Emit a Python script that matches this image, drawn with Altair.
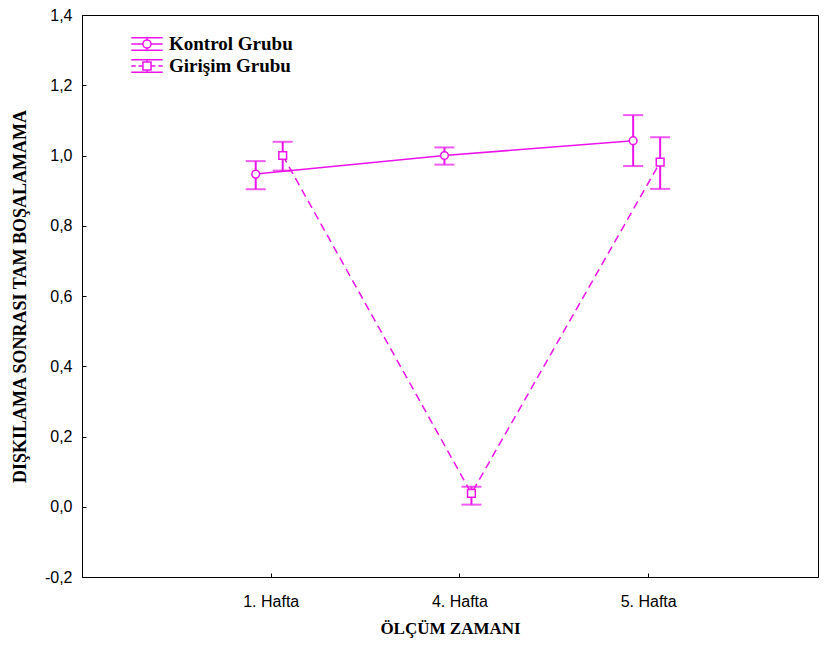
import altair as alt
import pandas as pd

weeks = ["1. Hafta", "4. Hafta", "5. Hafta"]
week_pos = [1, 2, 3]
groups = ["Kontrol Grubu", "Girişim Grubu"]
kontrol_mean = [0.947, 1.000, 1.042]
kontrol_low = [0.904, 0.974, 0.970]
kontrol_high = [0.984, 1.023, 1.115]
girisim_mean = [1.000, 0.038, 0.981]
girisim_low = [0.957, 0.006, 0.905]
girisim_high = [1.039, 0.057, 1.052]
y_ticks = [-0.2, 0.0, 0.2, 0.4, 0.6, 0.8, 1.0, 1.2, 1.4]

MAG = "#EA14EA"
PLOT_H = 562


def frame(g, m, lo, hi):
    return pd.DataFrame({"pos": week_pos, "week": weeks, "group": g,
                         "mean": m, "lo": lo, "hi": hi})


dk = frame(groups[0], kontrol_mean, kontrol_low, kontrol_high)
dg = frame(groups[1], girisim_mean, girisim_low, girisim_high)

x_label_expr = " : ".join(
    [f"datum.value == {p} ? '{w}'" for p, w in zip(week_pos[:-1], weeks[:-1])]
) + f" : '{weeks[-1]}'"

x_axis = alt.Axis(
    values=week_pos, labelExpr=x_label_expr, title="ÖLÇÜM ZAMANI",
    ticks=False, grid=True, gridDash=[0, PLOT_H - 4, 4, 1000], gridColor="black",
    gridWidth=1, gridOpacity=1, labelPadding=16, titlePadding=11, titleFontSize=17,
)
y_axis = alt.Axis(
    values=y_ticks,
    labelExpr="replace(replace(format(datum.value, '.1f'), '.', ','), '\u2212', '-')",
    title="DIŞKILAMA SONRASI TAM BOŞALAMAMA",
    ticks=False, grid=True, gridDash=[4, 3000], gridColor="black", gridWidth=1,
    gridOpacity=1, labelPadding=10, titlePadding=15, titleFontSize=18,
)
x_scale = alt.Scale(domain=[0, 3.9], nice=False, zero=False)
y_scale = alt.Scale(domain=[-0.2, 1.4], nice=False, zero=False)


def X():
    return alt.X("pos:Q", scale=x_scale, axis=x_axis)


def Y(field):
    return alt.Y(f"{field}:Q", scale=y_scale, axis=y_axis)


def group_layers(d, off, dash, shape):
    base = alt.Chart(d)
    line_kw = dict(color=MAG, strokeWidth=1.5, xOffset=off)
    if dash:
        line_kw["strokeDash"] = dash
    line = base.mark_line(**line_kw).encode(x=X(), y=Y("mean"))
    rule = base.mark_rule(color=MAG, strokeWidth=2, xOffset=off).encode(
        x=X(), y=Y("lo"), y2="hi:Q")
    cap_hi = base.mark_tick(color=MAG, orient="horizontal", size=20, thickness=2,
                            xOffset=off).encode(x=X(), y=Y("hi"))
    cap_lo = base.mark_tick(color=MAG, orient="horizontal", size=20, thickness=2,
                            xOffset=off).encode(x=X(), y=Y("lo"))
    pts = base.mark_point(shape=shape, filled=True, fill="white", stroke=MAG,
                          strokeWidth=1.5, size=60, opacity=1, xOffset=off).encode(
        x=X(), y=Y("mean"))
    return [line, rule, cap_hi, cap_lo, pts]


pk = ("M-1.75,-0.7L1.75,-0.7M-1.75,0.7L1.75,0.7M0,-0.7L0,-0.45M0,0.45L0,0.7"
      "M-1.75,0L-0.45,0M0.45,0L1.75,0"
      "M-0.45,0A0.45,0.45,0,1,0,0.45,0A0.45,0.45,0,1,0,-0.45,0Z")
pg = ("M-1.75,-0.7L1.75,-0.7M-1.75,0.7L1.75,0.7M0,-0.7L0,-0.45M0,0.45L0,0.7"
      "M-1.75,0L-1.25,0M-0.95,0L-0.45,0M0.45,0L0.95,0M1.25,0L1.75,0"
      "M-0.45,-0.45L0.45,-0.45L0.45,0.45L-0.45,0.45Z")

legend_layer = alt.Chart(pd.concat([dk, dg])).mark_point(opacity=0).encode(
    x=X(), y=Y("mean"),
    shape=alt.Shape("group:N", scale=alt.Scale(domain=groups, range=[pk, pg]),
                    legend=alt.Legend(
                        title=None, orient="none", legendX=55, legendY=19,
                        symbolSize=324, symbolStrokeColor=MAG, symbolFillColor="white",
                        symbolStrokeWidth=1.5, symbolOpacity=1,
                        labelFont="Liberation Serif", labelFontWeight="bold",
                        labelFontSize=19, labelColor="black", labelOffset=12,
                        rowPadding=2, padding=0,
                    )),
)

layers = group_layers(dk, -15, None, "circle") + group_layers(dg, 12, [8, 5], "square")

chart = alt.layer(*layers, legend_layer).properties(
    width=736, height=PLOT_H,
    autosize=alt.AutoSizeParams(type="none"),
    padding={"left": 74, "top": 7, "right": 1, "bottom": 62},
).configure_view(
    stroke="black", strokeWidth=1
).configure_axis(
    domainColor="black", domainWidth=1,
    labelFont="Liberation Sans", labelFontSize=16, labelColor="black",
    titleFont="Liberation Serif", titleFontWeight="bold",
    titleColor="black",
)

chart.save("out.html", embed_options={"renderer": "svg", "actions": False})
